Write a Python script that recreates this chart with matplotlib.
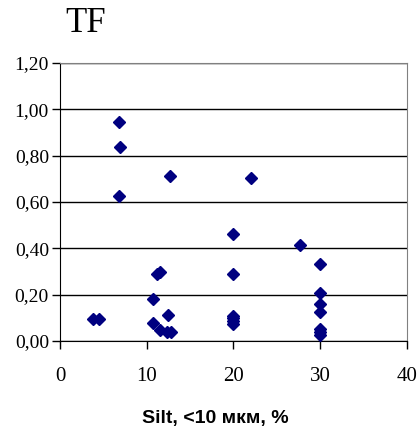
import matplotlib
matplotlib.use("Agg")
import numpy as np
from matplotlib import pyplot as plt
from matplotlib.ticker import FuncFormatter

# values
silt = [3.8, 4.5,
        6.8, 6.9, 6.8,
        10.7, 10.7, 11.2, 11.5, 11.5, 12.3, 12.8, 12.5, 12.7,
        20.0, 20.0, 20.0, 20.0, 20.0, 20.0,
        22.0, 27.7,
        30.0, 30.0, 30.0, 30.0, 30.0, 30.0, 30.0]
tf = [0.096, 0.096,
      0.945, 0.837, 0.624,
      0.18, 0.079, 0.29, 0.30, 0.046, 0.039, 0.039, 0.114, 0.712,
      0.463, 0.29, 0.11, 0.10, 0.086, 0.072,
      0.705, 0.413,
      0.331, 0.209, 0.158, 0.127, 0.053, 0.039, 0.024]
x_ticks = [0, 10, 20, 30, 40]
y_ticks = [0.0, 0.2, 0.4, 0.6, 0.8, 1.0, 1.2]

serif = ["Liberation Serif", "DejaVu Serif"]

fig = plt.figure(figsize=(4.2, 4.45), dpi=100)
ax = fig.add_axes([60 / 420, 1 - 341 / 445, 347 / 420, 278 / 445])

ax.plot(silt, tf, linestyle="none", marker="D", markersize=6.5,
        color="#000080", markeredgecolor="#000080", clip_on=False, zorder=3)

ax.set_xlim(0, 40)
ax.set_ylim(0, 1.2)
ax.set_xticks(x_ticks)
ax.set_yticks(y_ticks)
ax.yaxis.set_major_formatter(FuncFormatter(lambda v, p: f"{v:.2f}".replace(".", ",")))
ax.grid(axis="y", color="black", linewidth=1.0)
ax.set_axisbelow(True)

for lab in ax.get_xticklabels():
    lab.set_family(serif)
    lab.set_fontsize(15)
for lab in ax.get_yticklabels():
    lab.set_family(serif)
    lab.set_fontsize(14)
ax.tick_params(axis="x", direction="out", length=6, width=1, pad=13)
ax.tick_params(axis="y", direction="out", length=6, width=1, pad=2)

ax.spines["left"].set_color("black")
ax.spines["bottom"].set_color("black")
ax.spines["top"].set_color("#808080")
ax.spines["right"].set_color("#808080")

fig.text(86 / 420, 1 - 24 / 445, "TF", family=serif, fontsize=25,
         ha="center", va="center")
fig.text(215 / 420, 1 - 418 / 445, "Silt, <10 мкм, %",
         family=["Liberation Sans Narrow", "Liberation Sans", "DejaVu Sans"],
         fontweight="bold", fontsize=14, ha="center", va="center")

fig.savefig("out.png", dpi=100)
